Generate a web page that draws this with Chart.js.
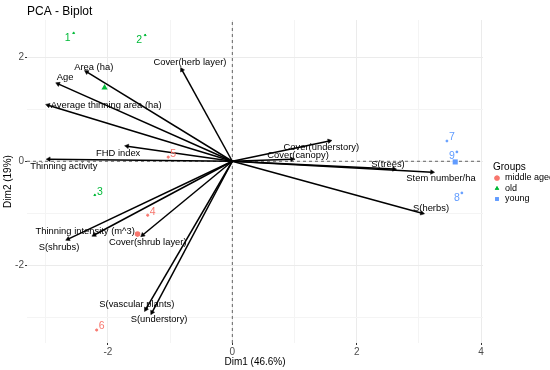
<!DOCTYPE html>
<html lang="en">
<head>
  <meta charset="UTF-8" />
  <title>PCA - Biplot</title>
  <script src="https://cdn.jsdelivr.net/npm/chart.js"></script>
  <style>
    html, body { margin: 0; padding: 0; background: #fff; }
  </style>
</head>
<body>
  <canvas id="biplot" width="550" height="370"></canvas>

  <script>
    // individuals (PCA scores)
    const sampleIds = ['1', '2', '3', '4', '5', '6', '7', '8', '9'];
    const sampleGroups = ['old', 'old', 'old', 'middle aged', 'middle aged', 'middle aged', 'young', 'young', 'young'];
    const sampleDim1 = [-2.55, -1.40, -2.21, -1.36, -1.03, -2.18, 3.45, 3.69, 3.61];
    const sampleDim2 = [2.47, 2.43, -0.65, -1.04, 0.08, -3.25, 0.39, -0.61, 0.18];

    const groupNames = ['middle aged', 'old', 'young'];

    // variables (loadings, scaled)
    const varNames = [
      'Area (ha)', 'Age', 'Average thinning area (ha)', 'Cover(herb layer)', 'FHD index',
      'Thinning activity', 'Cover(understory)', 'Cover(canopy)', 'S(trees)', 'Stem number/ha',
      'S(herbs)', 'Thinning intensity (m^3)', 'S(shrubs)', 'Cover(shrub layer)',
      'S(vascular plants)', 'S(understory)'
    ];
    const varDim1 = [-2.34, -2.80, -2.96, -0.81, -1.69, -2.95, 1.56, 0.96, 2.60, 3.21, 3.05, -2.22, -2.64, -1.44, -1.39, -1.29];
    const varDim2 = [1.72, 1.49, 1.08, 1.76, 0.29, 0.04, 0.39, 0.04, -0.15, -0.21, -1.00, -1.42, -1.50, -1.42, -2.85, -2.91];

    const xTickLabels = [-2, 0, 2, 4];
    const yTickLabels = [-2, 0, 2];

    // ---- styling / layout ----
    const FONT = "'Liberation Sans', Arial, sans-serif";
    const X_MIN = -3.30, X_MAX = 4.03, Y_MIN = -3.50, Y_MAX = 2.72;
    const groupColor = { 'middle aged': '#F8766D', 'old': '#00BA38', 'young': '#619CFF' };
    const groupShape = { 'middle aged': 'circle', 'old': 'triangle', 'young': 'rect' };

    // pixel nudges for the repelled text labels
    const varLabelOffsets = {
      'Area (ha)': [7, -5], 'Age': [7, -6], 'Average thinning area (ha)': [58, 0],
      'Cover(herb layer)': [8, -7], 'FHD index': [-9, 7], 'Thinning activity': [15, 7],
      'Cover(understory)': [-8, 6], 'Cover(canopy)': [6, -4], 'S(trees)': [-6, -5],
      'Stem number/ha': [9, 6], 'S(herbs)': [9, -5], 'Thinning intensity (m^3)': [-9, -4],
      'S(shrubs)': [-9, 8], 'Cover(shrub layer)': [5, 7], 'S(vascular plants)': [-9, -5],
      'S(understory)': [7, 7]
    };
    const sampleLabelOffsets = {
      '1': [-6, 5], '2': [-6, 5], '3': [5, -3], '4': [5, -3], '5': [5, -3],
      '6': [5, -4], '7': [5, -4], '8': [-5, 5], '9': [-5, 4]
    };

    function arrowRotation(ctx) {
      const ds = ctx.dataset.data;
      const xs = ctx.chart.scales.x, ys = ctx.chart.scales.y;
      if (!xs || !ys) return 0;
      const dx = xs.getPixelForValue(ds[1].x) - xs.getPixelForValue(ds[0].x);
      const dy = ys.getPixelForValue(ds[1].y) - ys.getPixelForValue(ds[0].y);
      return Math.atan2(dx, -dy) * 180 / Math.PI;
    }

    const datasets = [];

    // dashed reference lines through the origin
    datasets.push({
      data: [{ x: 0, y: Y_MIN }, { x: 0, y: Y_MAX }],
      showLine: true, borderColor: '#555', borderWidth: 0.9, borderDash: [3, 3],
      pointRadius: 0, order: 20
    });
    datasets.push({
      data: [{ x: X_MIN, y: 0 }, { x: X_MAX, y: 0 }],
      showLine: true, borderColor: '#555', borderWidth: 0.9, borderDash: [3, 3],
      pointRadius: 0, order: 20
    });

    // variable arrows
    varNames.forEach((name, i) => {
      datasets.push({
        label: name,
        data: [{ x: 0, y: 0 }, { x: varDim1[i], y: varDim2[i] }],
        showLine: true,
        borderColor: '#000',
        borderWidth: 1.5,
        pointStyle: 'triangle',
        pointRadius: [0, 2.6],
        pointRotation: arrowRotation,
        pointBackgroundColor: '#000',
        pointBorderColor: '#000',
        pointBorderWidth: 0.5,
        order: 10
      });
    });

    // individuals + group centroids
    groupNames.forEach(g => {
      const idx = sampleGroups.map((s, i) => s === g ? i : -1).filter(i => i >= 0);
      datasets.push({
        label: g,
        data: idx.map(i => ({ x: sampleDim1[i], y: sampleDim2[i] })),
        pointStyle: groupShape[g],
        pointRadius: 1.1,
        backgroundColor: groupColor[g],
        borderColor: groupColor[g],
        order: 2
      });
      const mx = idx.reduce((a, i) => a + sampleDim1[i], 0) / idx.length;
      const my = idx.reduce((a, i) => a + sampleDim2[i], 0) / idx.length;
      datasets.push({
        label: g + ' (mean)',
        data: [{ x: mx, y: my }],
        pointStyle: groupShape[g],
        pointRadius: g === 'middle aged' ? 2.8 : 3.6,
        backgroundColor: groupColor[g],
        borderColor: groupColor[g],
        borderWidth: 0,
        order: 1
      });
    });

    const labelPlugin = {
      id: 'biplotLabels',
      afterDatasetsDraw(chart) {
        const { ctx, scales: { x, y } } = chart;
        ctx.save();
        ctx.textAlign = 'center';
        ctx.textBaseline = 'middle';
        ctx.font = `9.4px ${FONT}`;
        ctx.fillStyle = '#000';
        varNames.forEach((name, i) => {
          const off = varLabelOffsets[name] || [0, 0];
          ctx.fillText(name, x.getPixelForValue(varDim1[i]) + off[0], y.getPixelForValue(varDim2[i]) + off[1]);
        });
        ctx.font = `10.5px ${FONT}`;
        sampleIds.forEach((id, i) => {
          const off = sampleLabelOffsets[id] || [0, 0];
          ctx.fillStyle = groupColor[sampleGroups[i]];
          ctx.fillText(id, x.getPixelForValue(sampleDim1[i]) + off[0], y.getPixelForValue(sampleDim2[i]) + off[1]);
        });
        ctx.restore();
      }
    };

    // ggplot-style legend to the right of the panel
    const groupLegend = {
      id: 'groupLegend',
      afterDraw(chart) {
        const { ctx, chartArea } = chart;
        const left = chartArea.right + 10;
        const mid = (chartArea.top + chartArea.bottom) / 2;
        ctx.save();
        ctx.textBaseline = 'middle';
        ctx.textAlign = 'left';
        ctx.fillStyle = '#000';
        ctx.font = `10px ${FONT}`;
        ctx.fillText('Groups', left, mid - 14.5);
        ctx.font = `9px ${FONT}`;
        groupNames.forEach((g, i) => {
          const cy = mid - 3.5 + i * 10.5;
          ctx.fillStyle = groupColor[g];
          Chart.helpers.drawPoint(ctx, { pointStyle: groupShape[g], radius: 2.6, borderWidth: 0 }, left + 4, cy);
          ctx.fill();
          ctx.fillStyle = '#000';
          ctx.fillText(g, left + 12, cy);
        });
        ctx.restore();
      }
    };

    const gridColor = c => (c.tick && Math.abs(c.tick.value % 2) === 1) ? '#f4f4f4' : '#ebebeb';
    const tickMarkColor = c => (c.tick && Math.abs(c.tick.value % 2) === 1) ? 'rgba(0,0,0,0)' : '#333';

    new Chart(document.getElementById('biplot'), {
      type: 'scatter',
      data: { datasets },
      options: {
        responsive: false,
        animation: false,
        layout: { padding: { right: 67 } },
        scales: {
          x: {
            type: 'linear',
            min: X_MIN,
            max: X_MAX,
            afterBuildTicks: s => { s.ticks = [-3, -2, -1, 0, 1, 2, 3, 4].map(v => ({ value: v })); },
            afterFit: s => { s.height = 27; },
            border: { display: false },
            grid: { color: gridColor, tickColor: tickMarkColor, tickLength: 2, lineWidth: 1 },
            ticks: {
              autoSkip: false, maxRotation: 0, padding: 1,
              color: '#4d4d4d', font: { family: FONT, size: 10 },
              callback: v => xTickLabels.includes(v) ? String(v) : ''
            },
            title: {
              display: true, text: 'Dim1 (46.6%)', color: '#000',
              font: { family: FONT, size: 10 }, padding: { top: 0, bottom: 2 }
            }
          },
          y: {
            type: 'linear',
            min: Y_MIN,
            max: Y_MAX,
            afterBuildTicks: s => { s.ticks = [-3, -2, -1, 0, 1, 2].map(v => ({ value: v })); },
            afterFit: s => { s.width = 27; },
            border: { display: false },
            grid: { color: gridColor, tickColor: tickMarkColor, tickLength: 2, lineWidth: 1 },
            ticks: {
              autoSkip: false, padding: 1,
              color: '#4d4d4d', font: { family: FONT, size: 10 },
              callback: v => yTickLabels.includes(v) ? String(v) : ''
            },
            title: {
              display: true, text: 'Dim2 (19%)', color: '#000',
              font: { family: FONT, size: 10 }, padding: { top: 2, bottom: 0 }
            }
          }
        },
        plugins: {
          legend: { display: false },
          tooltip: { enabled: false },
          title: {
            display: true,
            text: 'PCA - Biplot',
            align: 'start',
            fullSize: false,
            color: '#000',
            font: { family: FONT, size: 12, weight: 'normal' },
            padding: { top: 4, bottom: 1.6 }
          }
        }
      },
      plugins: [labelPlugin, groupLegend]
    });
  </script>
</body>
</html>
